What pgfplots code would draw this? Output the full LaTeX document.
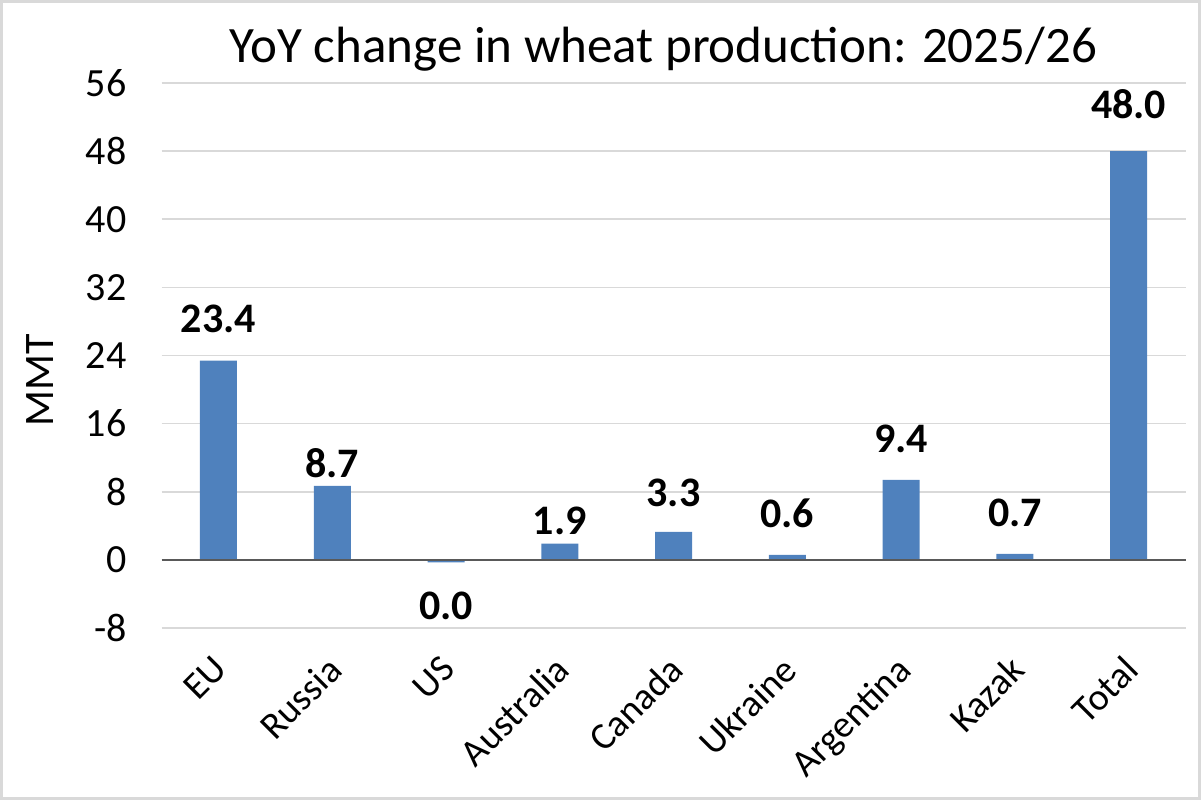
\documentclass[border=0pt]{standalone}
\usepackage{pgfplots}
\pgfplotsset{compat=1.18}
\usepackage{fontspec}
\setmainfont{Carlito}
\definecolor{barblue}{HTML}{4F81BD}
\definecolor{gridgray}{HTML}{D9D9D9}
\definecolor{zerogray}{HTML}{595959}

\begin{document}
\begin{tikzpicture}
\path[use as bounding box] (0,0) rectangle (600.5pt,400pt);
\draw[gridgray, line width=1.5pt] (0.75pt,0.75pt) rectangle (599.75pt,399.25pt);
\begin{axis}[
    at={(80.8pt,86pt)}, anchor=south west,
    scale only axis,
    width=512pt, height=272.5pt,
    xmin=-0.5, xmax=8.5,
    ymin=-8, ymax=56,
    ytick={-8,0,8,16,24,32,40,48,56},
    xtick={0,1,2,3,4,5,6,7,8},
    xticklabels={EU,Russia,US,Australia,Canada,Ukraine,Argentina,Kazak,Total},
    axis line style={draw=none},
    major tick length=0pt,
    ymajorgrids, grid style={gridgray, line width=0.8pt},
    /pgf/number format/assume math mode=true,
    yticklabel style={font=\fontsize{20}{24}\selectfont, xshift=-14pt},
    xticklabel style={font=\fontsize{19}{23}\selectfont, rotate=45, anchor=north east, yshift=-3.3pt, xshift=-8.1pt},
    ylabel={MMT},
    ylabel style={font=\fontsize{21}{25}\selectfont, at={(axis description cs:-0.119,0.455)}, anchor=center},
    title={YoY change in wheat production: 2025/26},
    title style={font=\fontsize{25.5}{30}\selectfont, at={(axis description cs:0.49,1)}, anchor=center, yshift=11pt},
    clip=false,
]
% bars
\addplot[ybar, bar width=18.5pt, fill=barblue, draw=none] coordinates {
    (0,23.4)(1,8.7)(2,-0.3)(3,1.9)(4,3.3)(5,0.6)(6,9.4)(7,0.7)(8,48.0)
};
% zero line
\draw[zerogray, line width=1pt] (axis cs:-0.5,0) -- (axis cs:8.5,0);
% value labels (placed as in the original)
\addplot[draw=none, mark=none, point meta=explicit symbolic,
    nodes near coords,
    nodes near coords style={anchor=center, font=\fontsize{21}{25}\selectfont\bfseries}]
    table[meta=lab] {
x y lab
0 28.3 23.4
1 11.3 8.7
2 -5.4 0.0
3 4.6 1.9
4 7.9 3.3
5 5.5 0.6
6 14.2 9.4
7 5.5 0.7
8 53.5 48.0
};
\end{axis}
\end{tikzpicture}
\end{document}
